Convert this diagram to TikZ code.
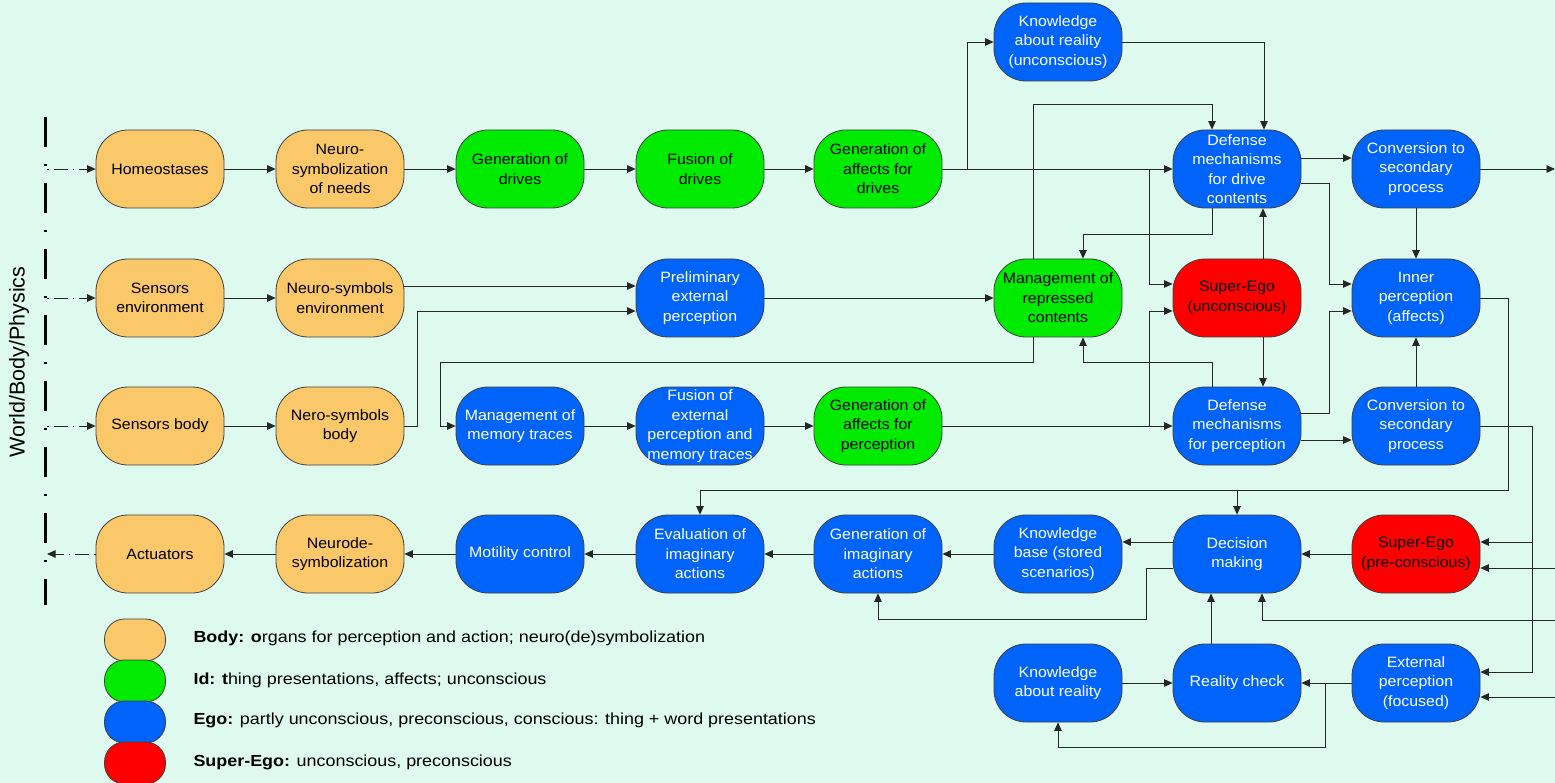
\documentclass[tikz,border=0pt]{standalone}
\usepackage{fontspec}
\setmainfont{Liberation Sans}
\newfontfamily\widesans[FakeStretch=1.12]{Liberation Sans}
\newfontfamily\boxsans[FakeStretch=1.06]{Liberation Sans}
\usetikzlibrary{arrows.meta}
\definecolor{bodyorange}{RGB}{250,200,105}
\definecolor{idgreen}{RGB}{0,235,0}
\definecolor{egoblue}{RGB}{0,100,250}
\definecolor{superred}{RGB}{255,0,0}
\definecolor{mint}{RGB}{222,249,238}
\begin{document}
\begin{tikzpicture}[x=1pt,y=-1pt,
    box/.style={draw=black!75,line width=0.8pt,rounded corners=32pt,minimum width=128pt,
      minimum height=78pt,inner sep=0pt,align=center,font=\boxsans\fontsize{15}{19.5}\selectfont},
    bodybox/.style={box,fill=bodyorange},
    idbox/.style={box,fill=idgreen},
    egobox/.style={box,fill=egoblue,text=white},
    superbox/.style={box,fill=superred},
    flow/.style={draw=black!85,line width=0.8pt,-{Triangle[length=8.5pt,width=7.5pt]}},
    world/.style={flow,dash pattern=on 1.5pt off 5pt on 14pt off 5pt},
    key/.style={draw=black!75,line width=0.8pt,rounded corners=20pt,minimum width=61pt,minimum height=42pt},
    keytext/.style={anchor=west,font=\widesans\fontsize{16}{18}\selectfont}]
  \fill[mint] (0,0) rectangle (1555,783);
  \useasboundingbox (0,0) rectangle (1555,783);
  \draw[line width=3pt,dash pattern=on 30pt off 17pt on 2pt off 17pt] (45,117) -- (45,605);
  \node[rotate=90,font=\fontsize{21.5}{24}\selectfont] (wbp) at (19,362) {World/Body/Physics};
  \coordinate (w1) at (47,169);
  \coordinate (w2) at (47,298);
  \coordinate (w3) at (47,426);
  \coordinate (w4) at (47,554);
  \coordinate (out1) at (1555,169);
  \coordinate (in1) at (1555,568);
  \coordinate (in2) at (1555,620);
  \coordinate (in3) at (1555,697);
  \node[egobox] (kru) at (1058,42) {Knowledge\\about reality\\(unconscious)};
  \node[bodybox] (hom) at (160,169) {Homeostases};
  \node[bodybox] (nsn) at (340,169) {Neuro-\\symbolization\\of needs};
  \node[idbox] (gdr) at (520,169) {Generation of\\drives};
  \node[idbox] (fdr) at (700,169) {Fusion of\\drives};
  \node[idbox] (gafd) at (878,169) {Generation of\\affects for\\drives};
  \node[egobox] (dmd) at (1237,169) {Defense\\mechanisms\\for drive\\contents};
  \node[egobox] (csp1) at (1416,169) {Conversion to\\secondary\\process};
  \node[bodybox] (sen) at (160,298) {Sensors\\environment};
  \node[bodybox] (nse) at (340,298) {Neuro-symbols\\environment};
  \node[egobox] (pep) at (700,298) {Preliminary\\external\\perception};
  \node[idbox] (mrc) at (1058,298) {Management of\\repressed\\contents};
  \node[superbox] (seu) at (1237,298) {Super-Ego\\(unconscious)};
  \node[egobox] (inp) at (1416,298) {Inner\\perception\\(affects)};
  \node[bodybox] (sb) at (160,426) {Sensors body};
  \node[bodybox] (nsb) at (340,426) {Nero-symbols\\body};
  \node[egobox] (mmt) at (520,426) {Management of\\memory traces};
  \node[egobox] (fepm) at (700,426) {Fusion of\\external\\perception and\\memory traces};
  \node[idbox] (gafp) at (878,426) {Generation of\\affects for\\perception};
  \node[egobox] (dmp) at (1237,426) {Defense\\mechanisms\\for perception};
  \node[egobox] (csp2) at (1416,426) {Conversion to\\secondary\\process};
  \node[bodybox] (act) at (160,554) {Actuators};
  \node[bodybox] (nds) at (340,554) {Neurode-\\symbolization};
  \node[egobox] (mc) at (520,554) {Motility control};
  \node[egobox] (eia) at (700,554) {Evaluation of\\imaginary\\actions};
  \node[egobox] (gia) at (878,554) {Generation of\\imaginary\\actions};
  \node[egobox] (kb) at (1058,554) {Knowledge\\base (stored\\scenarios)};
  \node[egobox] (dm) at (1237,554) {Decision\\making};
  \node[superbox] (sep) at (1416,554) {Super-Ego\\(pre-conscious)};
  \node[egobox] (kar) at (1058,683) {Knowledge\\about reality};
  \node[egobox] (rc) at (1237,683) {Reality check};
  \node[egobox] (epf) at (1416,683) {External\\perception\\(focused)};
  \begin{scope}[flow]
    \draw[world] (w1) -- (hom);
    \draw[world] (w2) -- (sen);
    \draw[world] (w3) -- (sb);
    \draw[world] (act) -- (w4);
    \draw (hom) -- (nsn);
    \draw (nsn) -- (gdr);
    \draw (gdr) -- (fdr);
    \draw (fdr) -- (gafd);
    \draw (gafd) -- (dmd);
    \draw (gafd.east) -- ++(25,0) |- (kru.west);
    \draw (kru.east) -| ([xshift=27pt]dmd.north);
    \draw (gafd.east) -- ++(207,0) |- ([yshift=14pt]seu.west);
    \draw ([xshift=-25pt]mrc.north) -- ++(0,-154) -| ([xshift=-25pt]dmd.north);
    \draw ([xshift=-25pt]dmd.south) -- ++(0,26) -| ([xshift=25pt]mrc.north);
    \draw ([xshift=26pt]seu.north) -- ([xshift=26pt]dmd.south);
    \draw ([yshift=11pt]dmd.east) -- ([yshift=11pt]csp1.west);
    \draw ([yshift=-14pt]dmd.east) -- ++(28,0) |- ([yshift=14pt]inp.west);
    \draw (csp1.south) -- (inp.north);
    \draw (csp1.east) -- (out1);
    \draw (sen) -- (nse);
    \draw ([yshift=12pt]nse.east) -- ([yshift=12pt]pep.west);
    \draw (nsb.east) -- ++(13,0) |- ([yshift=-13pt]pep.west);
    \draw (pep) -- (mrc);
    \draw ([xshift=-25pt]mrc.south) -- ++(0,25) -| ([xshift=-15pt]mmt.west) -- (mmt.west);
    \draw ([xshift=26pt]seu.south) -- ([xshift=26pt]dmp.north);
    \draw (sb) -- (nsb);
    \draw (mmt) -- (fepm);
    \draw (fepm) -- (gafp);
    \draw (gafp) -- (dmp);
    \draw (gafp.east) -- ++(207,0) |- ([yshift=-13pt]seu.west);
    \draw ([xshift=-25pt]dmp.north) -- ++(0,-24) -| ([xshift=25pt]mrc.south);
    \draw ([yshift=13pt]dmp.east) -- ++(28,0) |- ([yshift=-13pt]inp.west);
    \draw ([yshift=-14pt]dmp.east) -- ([yshift=-14pt]csp2.west);
    \draw (csp2.north) -- (inp.south);
    \draw (inp.east) -- ++(28,0) |- ([yshift=24pt]eia.north) -- (eia.north);
    \draw ([yshift=24pt]dm.north) -- (dm.north);
    \draw (csp2.east) -- ++(52,0) |- ([yshift=11pt]epf.east);
    \draw ([xshift=52pt,yshift=12pt]sep.east) -- ([yshift=12pt]sep.east);
    \draw (in1) -- ([yshift=-14pt]sep.east);
    \draw (in2) -| ([xshift=25pt]dm.south);
    \draw (in3) -- ([yshift=-14pt]epf.east);
    \draw (sep) -- (dm);
    \draw ([yshift=12pt]dm.west) -- ([yshift=12pt]kb.east);
    \draw ([yshift=-14pt]dm.west) -- ++(-26,0) -- ++(0,51) -| (gia.south);
    \draw (kb) -- (gia);
    \draw (gia) -- (eia);
    \draw (eia) -- (mc);
    \draw (mc) -- (nds);
    \draw (nds) -- (act);
    \draw ([xshift=-26pt]rc.north) -- ([xshift=-26pt]dm.south);
    \draw (kar) -- (rc);
    \draw (epf) -- (rc);
    \draw ([xshift=-26pt]epf.west) -- ++(0,64) -| (kar.south);
  \end{scope}
  \node[key,fill=bodyorange] (kbody) at (135,640) {};
  \node[key,fill=idgreen] (kid) at (135,681) {};
  \node[key,fill=egoblue] (kego) at (135,722) {};
  \node[key,fill=superred] (ksuper) at (135,763) {};
  \node[keytext] (tbody) at (190,638) {\textbf{Body: o}rgans for perception and action; neuro(de)symbolization};
  \node[keytext] (tid) at (190,680) {\textbf{Id: t}hing presentations, affects; unconscious};
  \node[keytext] (tego) at (190,720) {\textbf{Ego:} partly unconscious, preconscious, conscious: thing + word presentations};
  \node[keytext] (tsuper) at (190,762) {\textbf{Super-Ego:} unconscious, preconscious};
\end{tikzpicture}
\end{document}
